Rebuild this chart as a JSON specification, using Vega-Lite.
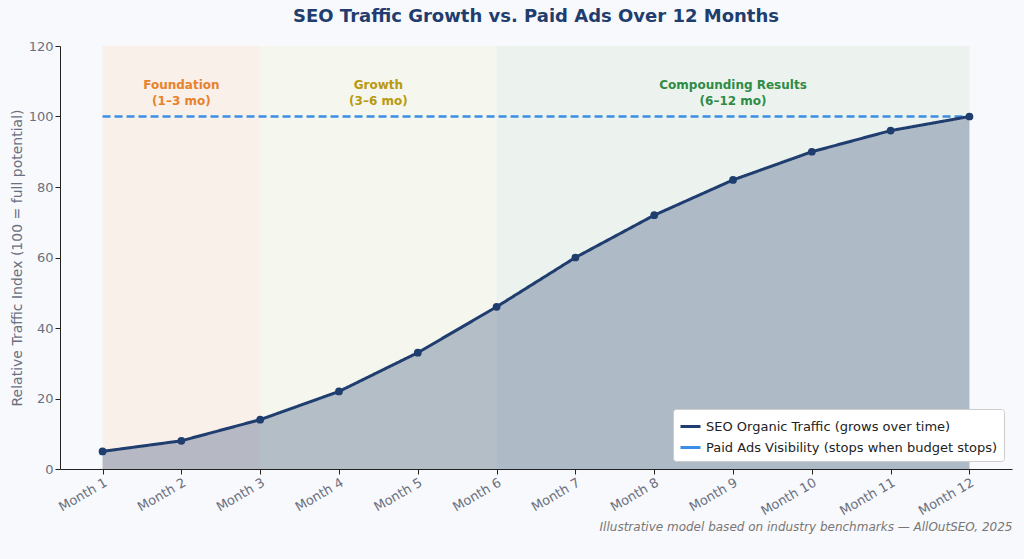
{
  "$schema": "https://vega.github.io/schema/vega-lite/v6.json",
  "autosize": {"type": "fit", "contains": "padding"},
  "width": 1024,
  "height": 559,
  "background": "#f8f9fc",
  "padding": {"left": 10, "right": 12, "top": 8, "bottom": 26},
  "title": {"text": "SEO Traffic Growth vs. Paid Ads Over 12 Months", "color": "#1f3d6e", "fontSize": 18, "fontWeight": "bold", "font": "DejaVu Sans", "offset": 14},
  "config": {"view": {"stroke": null}, "font": "DejaVu Sans"},
  "resolve": {"scale": {"color": "independent"}},
  "datasets": {
    "traffic": [
      {"month": 1, "value": 5, "series": "SEO Organic Traffic (grows over time)"},
      {"month": 2, "value": 8, "series": "SEO Organic Traffic (grows over time)"},
      {"month": 3, "value": 14, "series": "SEO Organic Traffic (grows over time)"},
      {"month": 4, "value": 22, "series": "SEO Organic Traffic (grows over time)"},
      {"month": 5, "value": 33, "series": "SEO Organic Traffic (grows over time)"},
      {"month": 6, "value": 46, "series": "SEO Organic Traffic (grows over time)"},
      {"month": 7, "value": 60, "series": "SEO Organic Traffic (grows over time)"},
      {"month": 8, "value": 72, "series": "SEO Organic Traffic (grows over time)"},
      {"month": 9, "value": 82, "series": "SEO Organic Traffic (grows over time)"},
      {"month": 10, "value": 90, "series": "SEO Organic Traffic (grows over time)"},
      {"month": 11, "value": 96, "series": "SEO Organic Traffic (grows over time)"},
      {"month": 12, "value": 100, "series": "SEO Organic Traffic (grows over time)"}
    ],
    "paid": [
      {"start": 1, "end": 12, "value": 100, "series": "Paid Ads Visibility (stops when budget stops)"}
    ],
    "phases": [
      {"start": 1, "end": 3, "label": ["Foundation", "(1–3 mo)"], "fill": "#f7e3cc", "text": "#e8822a"},
      {"start": 3, "end": 6, "label": ["Growth", "(3–6 mo)"], "fill": "#f1f3d6", "text": "#b89a10"},
      {"start": 6, "end": 12, "label": ["Compounding Results", "(6–12 mo)"], "fill": "#d9ead9", "text": "#2e8b46"}
    ]
  },
  "encoding": {
    "x": {"type": "quantitative", "scale": {"domain": [0.46, 12.54], "nice": false, "zero": false}}
  },
  "layer": [
    {
      "data": {"name": "phases"},
      "mark": {"type": "rect", "opacity": 0.4},
      "encoding": {
        "x": {"field": "start", "type": "quantitative",
          "axis": {"values": [1,2,3,4,5,6,7,8,9,10,11,12], "labelExpr": "'Month ' + datum.value", "labelAngle": -30, "labelAlign": "right", "labelColor": "#6b7080", "labelFontSize": 13, "grid": false, "domainColor": "#222", "tickColor": "#222",
            "title": "Illustrative model based on industry benchmarks — AllOutSEO, 2025", "titleAnchor": "end", "titleAlign": "right", "titleFontStyle": "italic", "titleFontWeight": "normal", "titleColor": "#777", "titleFontSize": 12, "titlePadding": 4}},
        "x2": {"field": "end"},
        "y": {"datum": 0, "type": "quantitative"},
        "y2": {"datum": 120},
        "color": {"field": "fill", "type": "nominal", "scale": null, "legend": null}
      }
    },
    {
      "data": {"name": "phases"},
      "transform": [{"calculate": "(datum.start + datum.end) / 2", "as": "mid"}],
      "mark": {"type": "text", "fontWeight": "bold", "fontSize": 12, "lineHeight": 16, "baseline": "middle"},
      "encoding": {
        "x": {"field": "mid", "type": "quantitative"},
        "y": {"datum": 109, "type": "quantitative"},
        "text": {"field": "label"},
        "color": {"field": "text", "type": "nominal", "scale": null, "legend": null}
      }
    },
    {
      "data": {"name": "traffic"},
      "mark": {"type": "area", "color": "#1f3d6e", "opacity": 0.3},
      "encoding": {
        "x": {"field": "month", "type": "quantitative"},
        "y": {"field": "value", "type": "quantitative"}
      }
    },
    {
      "layer": [
        {
          "data": {"name": "paid"},
          "mark": {"type": "rule", "strokeWidth": 2.5},
          "encoding": {
            "x": {"field": "start", "type": "quantitative"},
            "x2": {"field": "end"},
            "y": {"field": "value", "type": "quantitative"},
            "color": {"field": "series", "type": "nominal"},
            "strokeDash": {"field": "series", "type": "nominal"}
          }
        },
        {
          "data": {"name": "traffic"},
          "mark": {"type": "line", "strokeWidth": 3, "point": {"filled": true, "size": 60, "color": "#1f3d6e"}},
          "encoding": {
            "x": {"field": "month", "type": "quantitative"},
            "y": {"field": "value", "type": "quantitative",
              "scale": {"domain": [0, 120]},
              "axis": {"values": [0,20,40,60,80,100,120], "grid": false, "domainColor": "#222", "tickColor": "#222", "labelColor": "#6b7080", "labelFontSize": 13,
                "title": "Relative Traffic Index (100 = full potential)", "titleColor": "#6b7080", "titleFontSize": 14, "titleFontWeight": "normal"}},
            "color": {"field": "series", "type": "nominal",
              "scale": {"domain": ["SEO Organic Traffic (grows over time)", "Paid Ads Visibility (stops when budget stops)"], "range": ["#1f3d6e", "#3a8ee6"]},
              "legend": {"orient": "bottom-right", "title": null, "symbolType": "stroke", "symbolStrokeWidth": 3, "symbolSize": 400, "labelFontSize": 13, "labelColor": "#222", "fillColor": "#ffffff", "strokeColor": "#ccc", "padding": 6, "cornerRadius": 3, "offset": 8, "labelLimit": 400}},
            "strokeDash": {"field": "series", "type": "nominal",
              "scale": {"domain": ["SEO Organic Traffic (grows over time)", "Paid Ads Visibility (stops when budget stops)"], "range": [[1, 0], [8, 4]]},
              "legend": null}
          }
        }
      ]
    }
  ]
}
